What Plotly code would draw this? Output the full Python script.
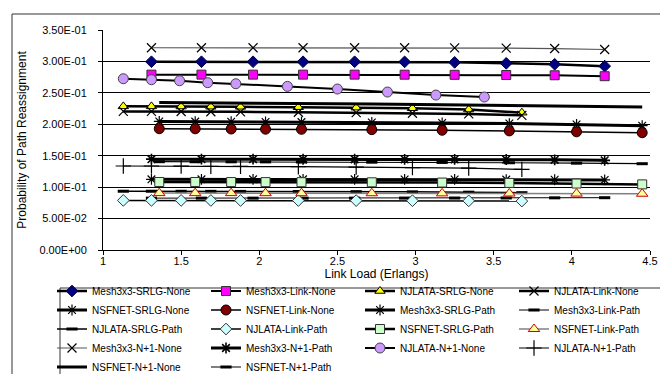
import plotly.graph_objects as go

# ---- data ----
mesh_x = [1.31, 1.63, 1.96, 2.28, 2.61, 2.93, 3.25, 3.58, 3.89, 4.21]
njlata_x = [1.13, 1.31, 1.50, 1.69, 1.88, 2.25, 2.62, 2.98, 3.34, 3.68]
njlata_n1_x = [1.13, 1.31, 1.49, 1.67, 1.85, 2.18, 2.50, 2.82, 3.13, 3.44]
nsfnet_x = [1.36, 1.59, 1.82, 2.04, 2.27, 2.72, 3.17, 3.60, 4.03, 4.45]

mesh_srlg_none = [0.2995, 0.2995, 0.2995, 0.2995, 0.2995, 0.2993, 0.2985, 0.2970, 0.2955, 0.2925]
mesh_link_none = [0.2790, 0.2790, 0.2790, 0.2790, 0.2790, 0.2789, 0.2787, 0.2784, 0.2780, 0.2765]
njlata_srlg_none = [0.2285, 0.2285, 0.2283, 0.2280, 0.2278, 0.2272, 0.2265, 0.2255, 0.2235, 0.2185]
njlata_link_none = [0.2205, 0.2205, 0.2203, 0.2200, 0.2198, 0.2192, 0.2185, 0.2175, 0.2165, 0.2142]
nsfnet_srlg_none = [0.2045, 0.2043, 0.2040, 0.2038, 0.2035, 0.2030, 0.2022, 0.2012, 0.1998, 0.1978]
nsfnet_link_none = [0.1930, 0.1928, 0.1925, 0.1922, 0.1920, 0.1915, 0.1905, 0.1895, 0.1880, 0.1866]
mesh_srlg_path = [0.1125, 0.1125, 0.1125, 0.1124, 0.1124, 0.1123, 0.1122, 0.1120, 0.1118, 0.1115]
mesh_link_path = [0.0825, 0.0825, 0.0825, 0.0825, 0.0825, 0.0826, 0.0827, 0.0828, 0.0830, 0.0832]
njlata_srlg_path = [0.0935, 0.0935, 0.0934, 0.0933, 0.0932, 0.0930, 0.0928, 0.0925, 0.0920, 0.0912]
njlata_link_path = [0.0789, 0.0789, 0.0789, 0.0788, 0.0788, 0.0787, 0.0786, 0.0784, 0.0782, 0.0778]
nsfnet_srlg_path = [0.1082, 0.1082, 0.1081, 0.1080, 0.1079, 0.1077, 0.1073, 0.1067, 0.1057, 0.1044]
nsfnet_link_path = [0.0905, 0.0905, 0.0905, 0.0904, 0.0904, 0.0903, 0.0901, 0.0899, 0.0897, 0.0895]
mesh_n1_none = [0.3218, 0.3218, 0.3218, 0.3218, 0.3218, 0.3218, 0.3215, 0.3212, 0.3205, 0.3190]
mesh_n1_path = [0.1445, 0.1445, 0.1445, 0.1444, 0.1444, 0.1443, 0.1442, 0.1440, 0.1435, 0.1426]
njlata_n1_none = [0.2725, 0.2709, 0.2693, 0.2662, 0.2645, 0.2603, 0.2561, 0.2513, 0.2465, 0.2434]
njlata_n1_path = [0.1336, 0.1336, 0.1334, 0.1332, 0.1330, 0.1325, 0.1320, 0.1312, 0.1302, 0.1282]
nsfnet_n1_none = [0.2345, 0.2343, 0.2340, 0.2335, 0.2330, 0.2322, 0.2310, 0.2298, 0.2287, 0.2275]
nsfnet_n1_path = [0.1405, 0.1404, 0.1403, 0.1402, 0.1400, 0.1397, 0.1393, 0.1388, 0.1381, 0.1373]

x_ticks = [1, 1.5, 2, 2.5, 3, 3.5, 4, 4.5]
y_ticks = [0.0, 0.05, 0.10, 0.15, 0.20, 0.25, 0.30, 0.35]
y_ticktext = ["%.2E" % v for v in y_ticks]

# ---- figure ----
fig = go.Figure()

def add(name, xs, ys, lw, lc="black", symbol=None, size=8, fill="black", mlc="black", mlw=1):
    if symbol is None:
        fig.add_trace(go.Scatter(x=xs, y=ys, name=name, mode="lines",
                                 line=dict(color=lc, width=lw)))
    else:
        fig.add_trace(go.Scatter(x=xs, y=ys, name=name, mode="lines+markers",
                                 line=dict(color=lc, width=lw),
                                 marker=dict(symbol=symbol, size=size, color=fill,
                                             line=dict(color=mlc, width=mlw))))

add("Mesh3x3-SRLG-None", mesh_x, mesh_srlg_none, 2.5, symbol="diamond", size=9, fill="#000080", mlc="#000040")
add("Mesh3x3-Link-None", mesh_x, mesh_link_none, 2, symbol="square", size=9, fill="#FF00FF", mlc="#333333")
add("NJLATA-SRLG-None", njlata_x, njlata_srlg_none, 2.5, symbol="triangle-up", size=9, fill="#FFFF00", mlc="#000000")
add("NJLATA-Link-None", njlata_x, njlata_link_none, 2.5, symbol="x-thin", size=9, fill="black", mlc="black", mlw=1.2)
add("NSFNET-SRLG-None", nsfnet_x, nsfnet_srlg_none, 3, symbol="asterisk", size=9, fill="black", mlc="black", mlw=1.2)
add("NSFNET-Link-None", nsfnet_x, nsfnet_link_none, 1.5, symbol="circle", size=10, fill="#800000", mlc="#000000")
add("Mesh3x3-SRLG-Path", mesh_x, mesh_srlg_path, 3, symbol="asterisk", size=9, fill="black", mlc="black", mlw=1.2)
add("Mesh3x3-Link-Path", mesh_x, mesh_link_path, 1, symbol="line-ew", size=8, fill="black", mlc="black", mlw=3)
add("NJLATA-SRLG-Path", njlata_x, njlata_srlg_path, 1.5, symbol="line-ew", size=8, fill="black", mlc="black", mlw=3)
add("NJLATA-Link-Path", njlata_x, njlata_link_path, 1.5, symbol="diamond", size=9, fill="#CCFFFF", mlc="#333333")
add("NSFNET-SRLG-Path", nsfnet_x, nsfnet_srlg_path, 2.5, symbol="square", size=9, fill="#CCFFCC", mlc="#333333")
add("NSFNET-Link-Path", nsfnet_x, nsfnet_link_path, 1.5, lc="#808080", symbol="triangle-up", size=10, fill="#FFFF99", mlc="#CC0000")
add("Mesh3x3-N+1-None", mesh_x, mesh_n1_none, 1.2, lc="#555555", symbol="x-thin", size=9, fill="black", mlc="black", mlw=1.2)
add("Mesh3x3-N+1-Path", mesh_x, mesh_n1_path, 3, symbol="asterisk", size=9, fill="black", mlc="black", mlw=1.6)
add("NJLATA-N+1-None", njlata_n1_x, njlata_n1_none, 2, symbol="circle", size=10, fill="#CC99FF", mlc="#444444")
add("NJLATA-N+1-Path", njlata_x, njlata_n1_path, 1.2, symbol="cross-thin", size=11, fill="black", mlc="black", mlw=1.2)
add("NSFNET-N+1-None", nsfnet_x, nsfnet_n1_none, 3)
add("NSFNET-N+1-Path", nsfnet_x, nsfnet_n1_path, 1.2, symbol="line-ew", size=8, fill="black", mlc="black", mlw=3)

W, H = 668, 374
L, R, T, B = 95, 26, 22, 132
pw, ph = W - L - R, H - T - B

def px_x(p):
    return (p - L) / pw

def px_y(p):
    return (H - B - p) / ph

fig.update_layout(
    width=W, height=H,
    margin=dict(l=L, r=R, t=T, b=B, autoexpand=False),
    paper_bgcolor="white", plot_bgcolor="white",
    font=dict(family="Arial, Liberation Sans, sans-serif", color="black", size=11),
    showlegend=True,
    legend=dict(
        orientation="h",
        x=px_x(44), xanchor="left",
        y=px_y(268.5), yanchor="top",
        entrywidth=109, entrywidthmode="pixels",
        font=dict(size=10, family="Arial, Liberation Sans, sans-serif"),
        borderwidth=0, bgcolor="rgba(0,0,0,0)",
        itemwidth=30,
    ),
    xaxis=dict(
        range=[1, 4.5], tickvals=x_ticks, ticktext=[("%g" % v) for v in x_ticks],
        showgrid=False, zeroline=False, showline=True, linecolor="black", linewidth=1,
        ticks="outside", ticklen=4, tickcolor="black",
        tickfont=dict(size=11), ticklabelstandoff=-3,
        title=dict(text="Link Load (Erlangs)", font=dict(size=12), standoff=0),
    ),
    yaxis=dict(
        range=[0, 0.35], tickvals=y_ticks, ticktext=y_ticktext,
        showgrid=True, gridcolor="black", gridwidth=1,
        zeroline=False, showline=True, linecolor="black", linewidth=1,
        ticks="outside", ticklen=4, tickcolor="black",
        tickfont=dict(size=11), ticklabelstandoff=9,
        title=dict(text="Probability of Path Reassignment", font=dict(size=12), standoff=10),
    ),
    shapes=[
        dict(type="rect", xref="paper", yref="paper",
             x0=px_x(4), x1=px_x(667), y0=px_y(372), y1=px_y(6),
             line=dict(color="#333333", width=1), fillcolor="rgba(0,0,0,0)", layer="below"),
        dict(type="rect", xref="paper", yref="paper",
             x0=px_x(52), x1=px_x(663), y0=px_y(372), y1=px_y(280),
             line=dict(color="#333333", width=1), fillcolor="rgba(0,0,0,0)", layer="below"),
    ],
)

fig.write_html("out.html")
